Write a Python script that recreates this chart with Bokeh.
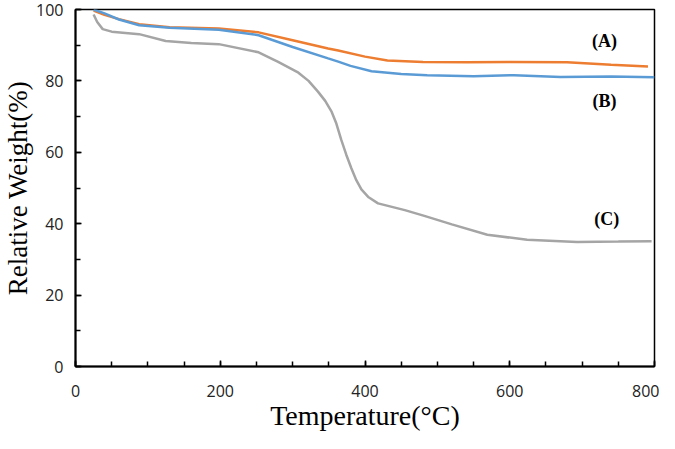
from bokeh.plotting import figure
from bokeh.models import Range1d, SingleIntervalTicker, Label
from bokeh.embed import file_html
from bokeh.resources import INLINE

# Data (Temperature °C, Relative weight %)
temp_a = [25, 40, 60, 88, 130, 198, 253, 300, 349, 363, 400, 431, 480, 541, 600, 679, 740, 791]
weight_a = [99.7, 98.5, 97.3, 95.9, 95.0, 94.7, 93.6, 91.4, 89.1, 88.5, 86.8, 85.7, 85.3, 85.2, 85.3, 85.2, 84.5, 84.0]

temp_b = [25, 40, 60, 88, 130, 198, 253, 300, 349, 363, 380, 409, 450, 486, 550, 606, 670, 740, 800]
weight_b = [100, 98.9, 97.2, 95.6, 94.9, 94.3, 92.8, 89.5, 86.3, 85.4, 84.2, 82.7, 81.9, 81.6, 81.3, 81.6, 81.1, 81.2, 81.0]

temp_c = [25, 30, 37.6, 50, 88, 124.6, 160, 198, 253, 280, 308, 322, 335, 345, 354, 360, 367, 374, 381, 388,
          395, 405, 418, 455, 482, 520, 569, 624, 693, 750, 796]
weight_c = [98.6, 96.5, 94.5, 93.8, 93.1, 91.2, 90.6, 90.3, 88.0, 85.3, 82.3, 80.0, 77.0, 74.4, 71.3, 68.3, 63.6, 59.4,
            55.6, 52.2, 49.6, 47.4, 45.7, 43.8, 42.2, 39.8, 36.9, 35.5, 34.9, 35.0, 35.1]

series_labels = ["(A)", "(B)", "(C)"]
label_x = [731, 731, 734]
label_y = [91.2, 74.3, 41.2]

x_ticks_interval = 200
y_ticks_interval = 20

p = figure(width=659, height=433, output_backend="svg", toolbar_location=None,
           x_range=Range1d(0, 800), y_range=Range1d(0, 100),
           min_border_left=68, min_border_right=5, min_border_top=9, min_border_bottom=60)

p.grid.visible = False
p.outline_line_color = "black"
p.outline_line_width = 1.5

p.line(temp_a, weight_a, line_color="#ED7D31", line_width=2.5)
p.line(temp_b, weight_b, line_color="#5B9BD5", line_width=2.5)
p.line(temp_c, weight_c, line_color="#A5A5A5", line_width=2.5)

p.xaxis.ticker = SingleIntervalTicker(interval=x_ticks_interval, num_minor_ticks=4)
p.yaxis.ticker = SingleIntervalTicker(interval=y_ticks_interval, num_minor_ticks=2)

for ax in (p.xaxis, p.yaxis):
    ax.axis_line_color = "black"
    ax.axis_line_width = 2
    ax.major_tick_line_color = "black"
    ax.minor_tick_line_color = "black"
    ax.major_tick_line_width = 1.5
    ax.minor_tick_line_width = 1.5
    ax.major_tick_out = 0
    ax.minor_tick_out = 0
    ax.major_tick_in = 6
    ax.minor_tick_in = 5
    ax.major_label_text_font = "Open Sans"
    ax.major_label_text_font_size = "16px"
    ax.major_label_text_color = "#222222"
    ax.axis_label_text_font = "Liberation Serif"
    ax.axis_label_text_font_style = "normal"
    ax.axis_label_text_color = "black"

p.xaxis.axis_label = "Temperature(°C)"
p.yaxis.axis_label = "Relative Weight(%)"
p.xaxis.axis_label_text_font_size = "28px"
p.yaxis.axis_label_text_font_size = "27px"
p.xaxis.major_label_standoff = 18
p.yaxis.major_label_standoff = 12
p.xaxis.axis_label_standoff = 0
p.yaxis.axis_label_standoff = 0

for t, x, y in zip(series_labels, label_x, label_y):
    p.add_layout(Label(x=x, y=y, text=t, text_font="Liberation Serif",
                       text_font_style="bold", text_font_size="18px",
                       text_align="center", text_baseline="middle", text_color="black"))

open("out.html", "w").write(file_html(p, INLINE))
